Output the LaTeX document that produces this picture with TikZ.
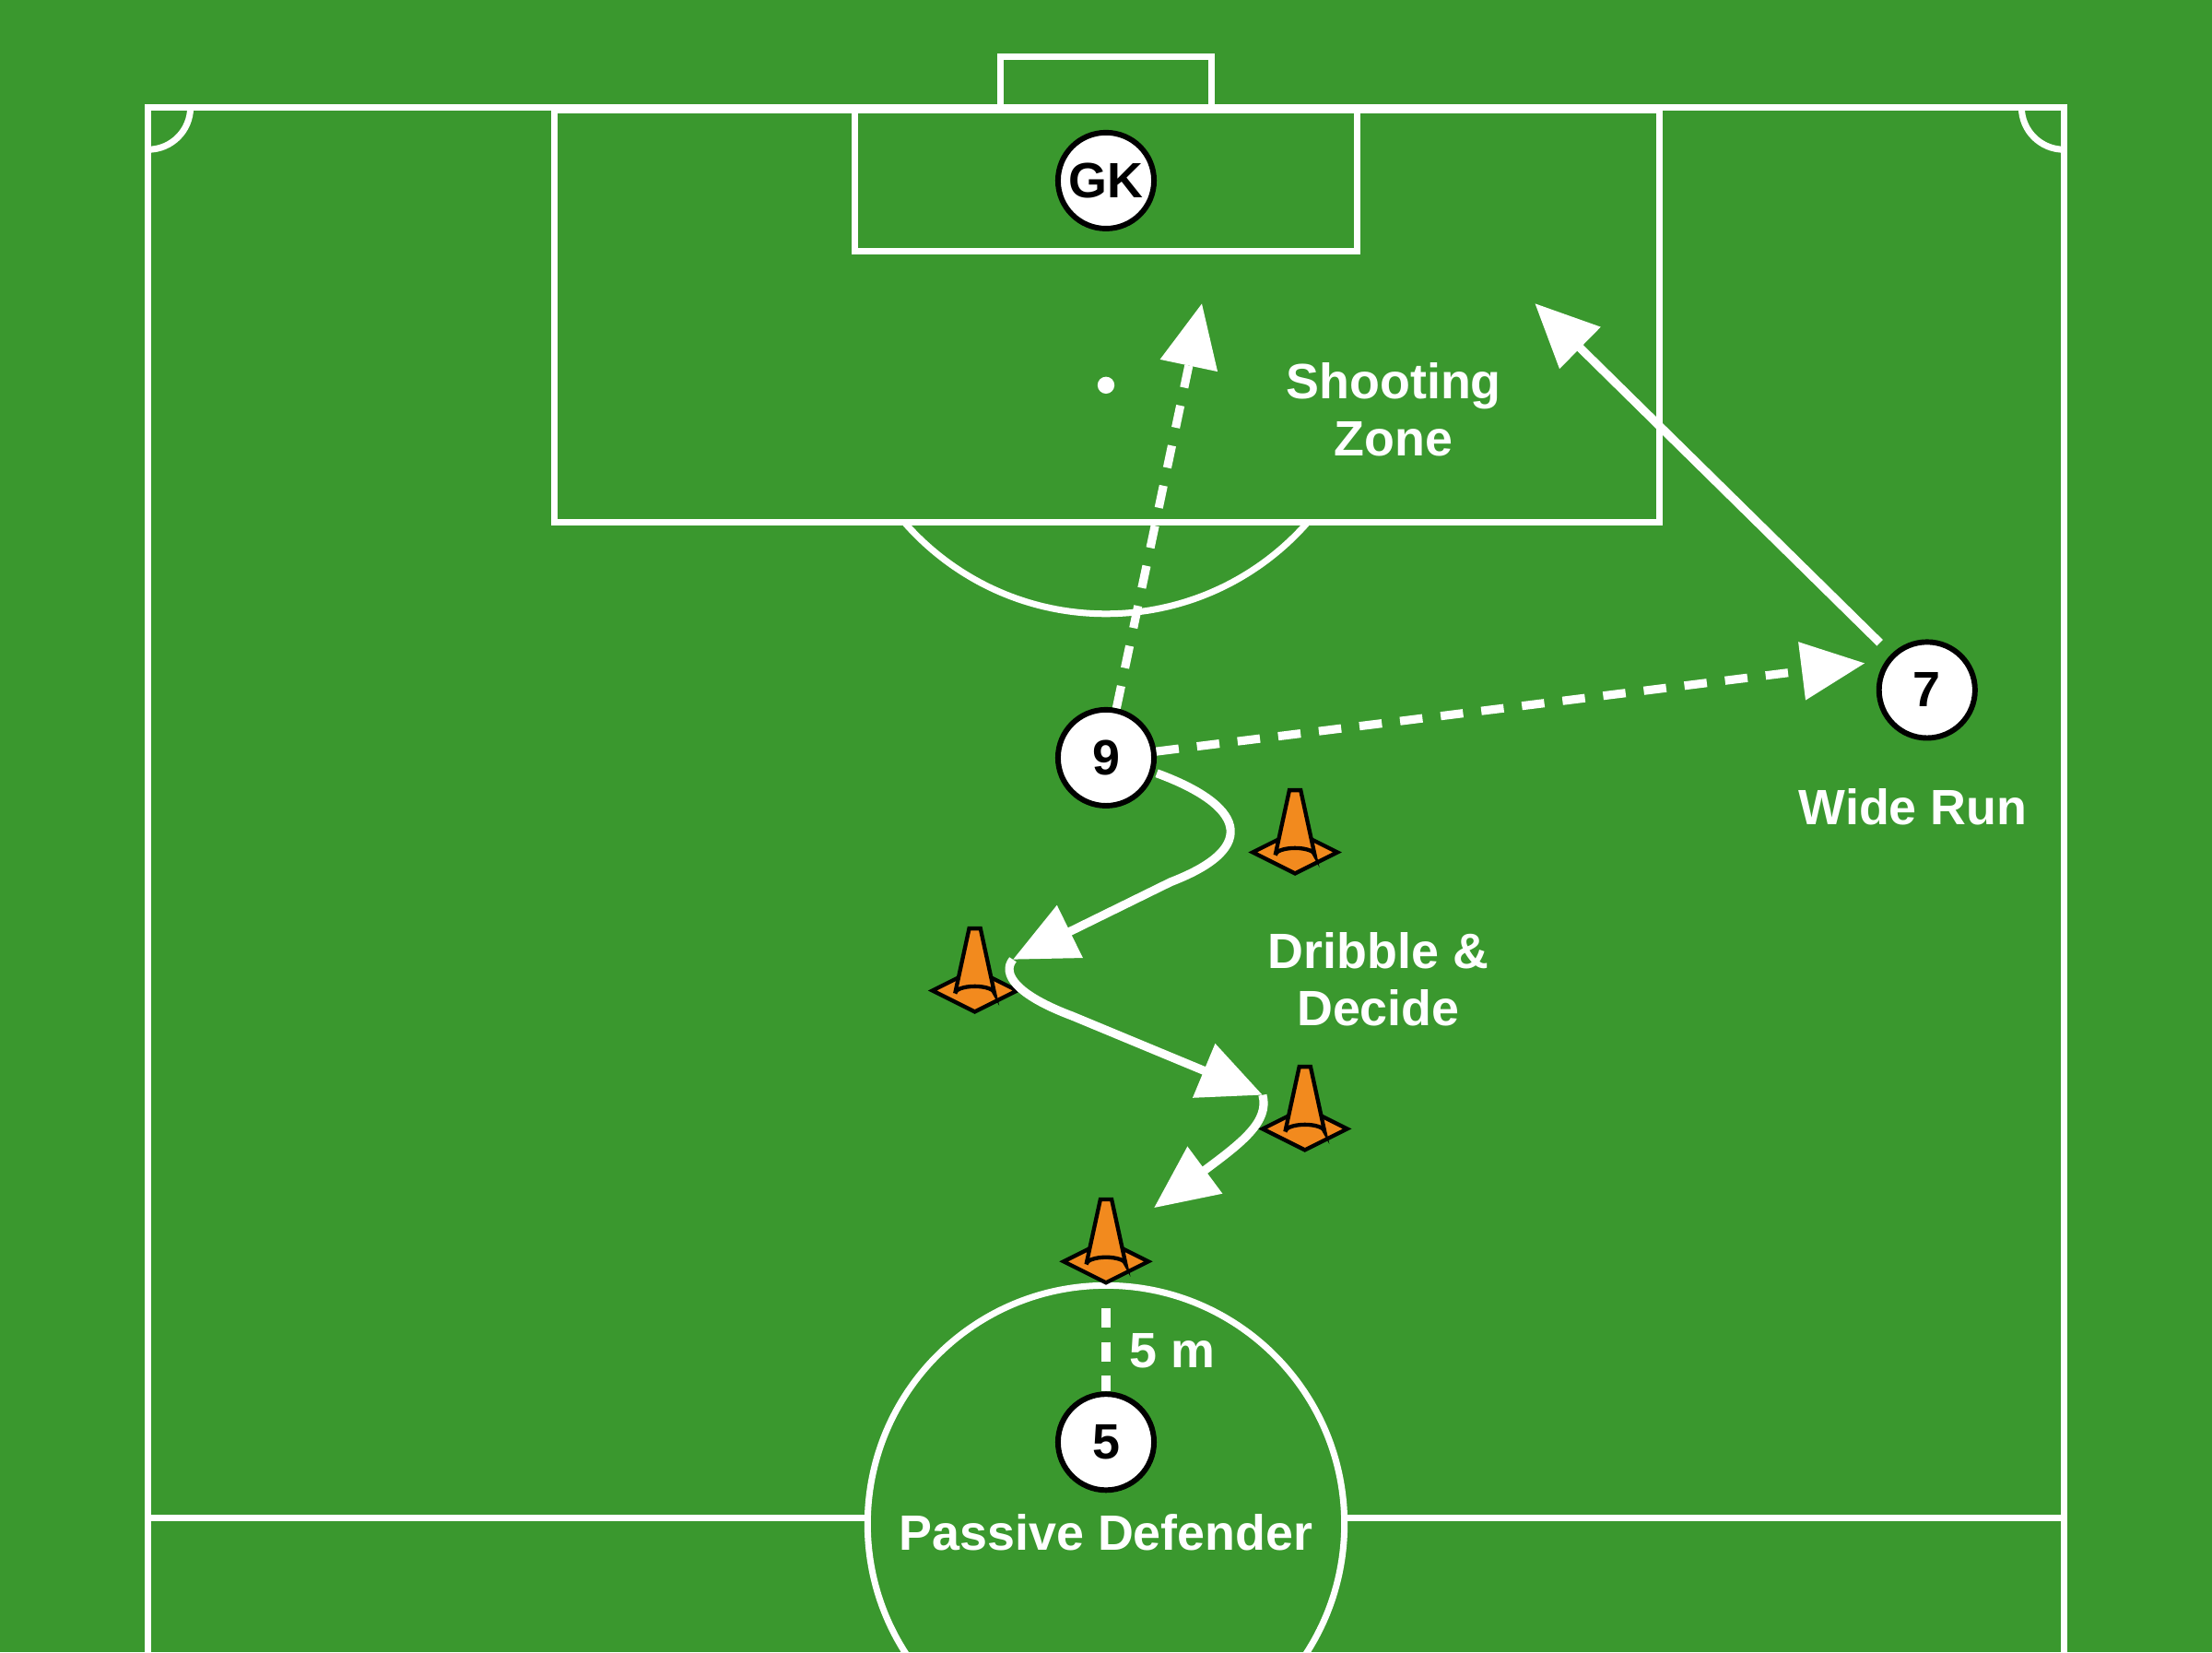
\documentclass[tikz,border=0pt]{standalone}
\usepackage{fontspec}
\setmainfont{Liberation Sans}
\usetikzlibrary{positioning}
\usetikzlibrary{calc}
\usetikzlibrary{arrows.meta}
\definecolor{pitch}{HTML}{3A982E}
\definecolor{conecol}{HTML}{F28A1E}
\tikzset{
line/.style={draw=white,line width=1.3pt},
player/.style={
  circle,
  minimum size=6.8mm,
  inner sep=0pt,
  align=center,
  draw=black,
  line width=1.1pt,
  fill=white,
  font=\fontsize{10}{10}\selectfont\bfseries
  },
lbl/.style={text=white,align=center,font=\fontsize{10}{11.5}\selectfont\bfseries},
run/.style={draw=white,line width=1.7pt,-{Triangle[length=4.5mm,width=4mm,fill=white]}},
pass/.style={run,dash pattern=on 1.6mm off 1.3mm}
}
\newcommand{\cone}[2]{%
  \fill[conecol,draw=black,line width=0.8pt] (#1-30,#2+12) -- (#1,#2-3) -- (#1+30,#2+12) -- (#1,#2+27) -- cycle;
  \fill[conecol,draw=black,line width=0.8pt] (#1-14,#2+14) -- (#1-4,#2-32) -- (#1+4,#2-32) -- (#1+14,#2+14) arc (0:-180:14 and 5);
}
\begin{document}
\begin{tikzpicture}[x=0.01cm,y=-0.01cm]
\fill[pitch] (0,0) rectangle (1568,1171);
\useasboundingbox (0,0) rectangle (1568,1171);
% pitch markings
\draw[line] (105,1171) -- (105,76) -- (1463,76) -- (1463,1171);
\draw[line] (105,1076) -- (616,1076);
\draw[line] (952,1076) -- (1463,1076);
\draw[line] (709,76) -- (709,40) -- (859,40) -- (859,76);
\draw[line] (393,78) rectangle (1176,370);
\draw[line] (606,78) rectangle (962,178);
\draw[line] (105,106) arc (90:0:30);
\draw[line] (1463,106) arc (90:180:30);
\fill[white] (784,273) circle (6);
\begin{scope}
\clip (0,370) rectangle (1568,600);
\draw[line] (784,245) circle (190);
\end{scope}
\draw[line] (784,1080) circle (169);
% cones
\cone{918}{592}
\cone{691}{690}
\cone{925}{788}
\cone{784}{882}
% players
\node[player] (gk) at (784,128) {GK};
\node[player] (nine) at (784,537) {9};
\node[player] (seven) at (1366,489) {7};
\node[player] (five) at (784,1022) {5};
\coordinate (shot) at (852,215);
\coordinate (wide) at (1322,470);
\coordinate (run) at (1088,215);
\coordinate (d0) at (820,548);
\coordinate (d1) at (718,680);
\coordinate (d2) at (895,776);
\coordinate (d3) at (818,856);
\coordinate (m1) at (784,927);
% connectors
\draw[pass] (nine) -- (shot);
\draw[pass] (nine) -- (wide);
\draw[run] (seven.north west) ++(-8,-8) -- (run);
\draw[run] (d0) .. controls (880,570) and (895,600) .. (830,625) -- (d1);
\draw[run] (d1) .. controls (710,690) and (720,705) .. (760,720) -- (d2);
\draw[run] (d2) .. controls (900,795) and (880,810) .. (d3);
\draw[white,line width=1.7pt,dash pattern=on 1.4mm off 1mm] (m1) -- (five);
% labels
\node[lbl] (zone) at (988,290) {Shooting\\Zone};
\node[lbl] (widerun) at (1356,572) {Wide Run};
\node[lbl] (dribble) at (977,694) {Dribble \&\\Decide};
\node[lbl] (dist) at (831,957) {5 m};
\node[lbl] (def) at (784,1086) {Passive Defender};
\end{tikzpicture}
\end{document}
